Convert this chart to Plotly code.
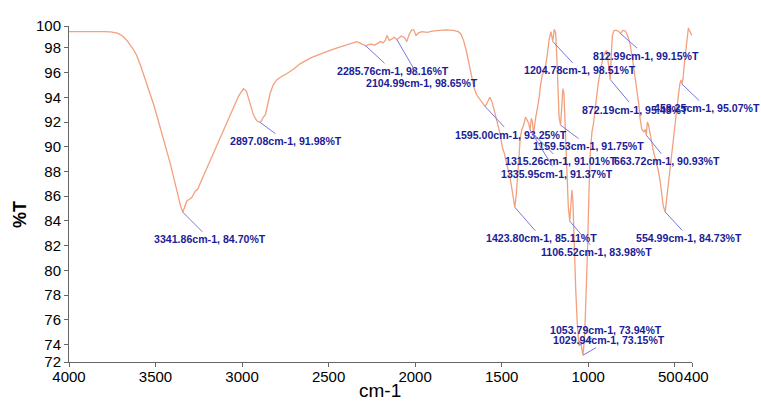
import plotly.graph_objects as go

# FTIR transmittance spectrum (wavenumber in cm-1, transmittance in %T)
wavenumber = [
    4000, 3900, 3800, 3760, 3720, 3690, 3660, 3630, 3609, 3585, 3560, 3535, 3513, 3490,
    3465, 3440, 3416, 3395, 3375, 3355, 3341.86, 3332, 3320, 3305, 3291, 3270, 3255, 3243,
    3215, 3185, 3155, 3127, 3090, 3050, 3020, 2992, 2975, 2954, 2935, 2915, 2905, 2897.08,
    2887, 2877, 2865, 2857, 2838, 2820, 2800, 2770, 2742, 2700, 2665, 2600, 2549, 2500,
    2450, 2400, 2360, 2337, 2315, 2300, 2285.76, 2270, 2250, 2235, 2220, 2200, 2185, 2172,
    2163, 2150, 2135, 2120, 2104.99, 2092, 2080, 2060, 2048, 2035, 2020, 2008, 1995, 1980,
    1960, 1930, 1900, 1860, 1820, 1780, 1750, 1735, 1720, 1705, 1690, 1675, 1660, 1645,
    1625, 1610, 1595.00, 1582, 1568, 1555, 1540, 1528, 1515, 1505, 1495, 1485, 1475, 1462,
    1450, 1440, 1432, 1423.80, 1415, 1408, 1400, 1392, 1383, 1372, 1362, 1352, 1344, 1335.95,
    1328, 1322, 1315.26, 1305, 1295, 1285, 1275, 1265, 1255, 1245, 1235, 1225, 1215, 1204.78,
    1196, 1188, 1182, 1176, 1168, 1159.53, 1152, 1146, 1140, 1132, 1124, 1115, 1106.52, 1100,
    1094, 1088, 1080, 1072, 1064, 1053.79, 1046, 1038, 1029.94, 1020, 1012, 1004, 996, 988,
    978, 970, 960, 951, 941, 932, 922, 913, 903, 893, 884, 877, 872.19, 866,
    860, 850, 835, 822, 812.99, 800, 785, 770, 758, 745, 735, 725, 715, 708,
    700, 690, 678, 670, 663.72, 658, 652, 645, 635, 624, 612, 604, 595, 585,
    575, 566, 554.99, 546, 537, 527, 517, 507, 498, 489, 480, 470, 463, 458.25,
    452, 445, 437, 430, 425, 421, 415, 408, 400,
]
transmittance = [
    99.30, 99.32, 99.30, 99.28, 99.18, 98.95, 98.50, 97.90, 97.40, 96.50, 95.50, 94.50, 93.50, 92.40,
    91.20, 90.00, 88.70, 87.50, 86.30, 85.20, 84.70, 85.20, 85.60, 85.75, 85.90, 86.40, 86.60, 87.00,
    87.90, 88.90, 89.90, 90.80, 92.00, 93.20, 94.10, 94.70, 94.50, 93.50, 92.60, 92.10, 92.05, 91.98,
    92.10, 92.40, 92.60, 93.10, 94.30, 95.00, 95.40, 95.70, 95.90, 96.30, 96.70, 97.20, 97.50, 97.75,
    98.00, 98.20, 98.40, 98.50, 98.35, 98.25, 98.16, 98.25, 98.30, 98.20, 98.35, 98.50, 98.40, 98.60,
    99.00, 98.60, 98.70, 98.85, 98.65, 98.85, 98.95, 98.80, 98.50, 99.05, 99.45, 99.45, 99.00, 99.20,
    99.30, 99.25, 99.35, 99.40, 99.45, 99.40, 99.30, 99.10, 98.60, 97.80, 96.80, 95.80, 94.80, 94.20,
    93.80, 93.60, 93.25, 93.60, 94.00, 93.60, 92.80, 92.10, 91.40, 90.70, 89.90, 89.50, 88.80, 88.10,
    87.40, 86.50, 85.70, 85.11, 86.20, 87.80, 89.50, 90.80, 91.40, 91.80, 92.40, 92.10, 91.90, 91.37,
    92.30, 92.00, 91.01, 92.20, 92.90, 93.80, 95.00, 95.80, 96.10, 96.60, 97.60, 98.70, 99.30, 98.51,
    99.50, 99.20, 97.50, 95.20, 92.40, 91.75, 93.20, 94.70, 94.30, 91.50, 87.80, 85.20, 83.98, 85.80,
    86.50, 85.50, 81.50, 78.50, 76.00, 73.94, 74.40, 73.70, 73.15, 74.80, 77.50, 81.50, 86.00, 89.50,
    91.20, 91.80, 93.00, 94.30, 95.20, 95.90, 96.60, 97.30, 97.60, 97.80, 96.80, 95.80, 95.43, 97.60,
    99.00, 99.40, 99.40, 99.30, 99.15, 99.40, 99.35, 98.90, 98.30, 97.20, 96.20, 95.30, 94.40, 93.50,
    92.30, 91.40, 91.20, 91.40, 90.93, 92.00, 91.80, 91.20, 90.40, 89.70, 89.00, 88.60, 88.10, 87.30,
    86.30, 85.20, 84.73, 85.90, 87.00, 88.10, 89.60, 90.80, 92.10, 92.90, 94.00, 95.10, 95.40, 95.07,
    95.50, 96.60, 97.80, 98.60, 99.30, 99.60, 99.40, 99.20, 99.00,
]

# Picked peaks
peak_wn = [3341.86, 2897.08, 2285.76, 2104.99, 1595.00, 1204.78, 812.99, 872.19, 458.25,
           1159.53, 1315.26, 1335.95, 663.72, 1423.80, 1106.52, 554.99, 1053.79, 1029.94]
peak_t = [84.70, 91.98, 98.16, 98.65, 93.25, 98.51, 99.15, 95.43, 95.07,
          91.75, 91.01, 91.37, 90.93, 85.11, 83.98, 84.73, 73.94, 73.15]
# label offsets from the peak, in pixels
label_dx = [27, 26, 27, 25, 26, 27, 25, 25, 25, 28, 27, 27, 21, 27, 27, 24, 27, 26]
label_dy = [27, 19, 25, 43, 28, 29, 22, 30, 24, 21, 27, 44, 26, 31, 31, 26, -15, -15]

x_ticks = [4000, 3500, 3000, 2500, 2000, 1500, 1000, 500, 400]
x_tick_text = ["4000", "3500", "3000", "2500", "2000", "1500", "1000",
               "500\u00a0\u00a0", "\u00a0\u00a0400"]
y_range = [72.6, 99.76]
y_tick_vals = [72.6, 74, 76, 78, 80, 82, 84, 86, 88, 90, 92, 94, 96, 98, 99.76]
y_tick_text = ["72", "74", "76", "78", "80", "82", "84", "86", "88", "90", "92", "94", "96", "98", "100"]

sans = "Liberation Sans, Arial, sans-serif"

fig = go.Figure()
fig.add_trace(go.Scatter(
    x=wavenumber, y=transmittance, mode="lines",
    line=dict(color="#f2a07e", width=1.3),
    hoverinfo="x+y", showlegend=False,
))

annotations = []
for wn, t, dx, dy in zip(peak_wn, peak_t, label_dx, label_dy):
    annotations.append(dict(
        x=wn, y=t, xref="x", yref="y",
        text=f"<b>{wn:.2f}cm-1, {t:.2f}%T</b>",
        showarrow=True, arrowhead=0, arrowwidth=1, arrowcolor="#7878dc",
        ax=dx, ay=dy, standoff=0,
        font=dict(family=sans, size=10.6, color="#1c1c96"),
    ))

annotations.append(dict(
    text="<b>%T</b>", xref="paper", yref="paper", x=-0.079, y=0.44,
    xanchor="center", yanchor="middle",
    showarrow=False, textangle=-90,
    font=dict(family=sans, size=18, color="#000"),
))
annotations.append(dict(
    text="cm-1", xref="paper", yref="paper", x=0.499, y=-0.085,
    xanchor="center", yanchor="middle", showarrow=False,
    font=dict(family=sans, size=19, color="#000"),
))

fig.update_layout(
    width=761, height=406,
    margin=dict(l=69, r=69, t=26, b=44, autoexpand=False),
    paper_bgcolor="white", plot_bgcolor="white",
    annotations=annotations,
    xaxis=dict(
        range=[4000, 400], tickmode="array", tickvals=x_ticks, ticktext=x_tick_text,
        tickangle=0, automargin=False, ticklabelstandoff=-3,
        showgrid=False, zeroline=False, showline=True, linecolor="#666", linewidth=1,
        ticks="outside", ticklen=4, tickcolor="#666",
        tickfont=dict(family=sans, size=15, color="#000"),
    ),
    yaxis=dict(
        range=y_range, tickmode="array", tickvals=y_tick_vals, ticktext=y_tick_text,
        automargin=False,
        showgrid=False, zeroline=False, showline=True, linecolor="#666", linewidth=1,
        ticks="outside", ticklen=4, tickcolor="#666",
        tickfont=dict(family=sans, size=15, color="#000"),
    ),
)

fig.write_html("out.html")
